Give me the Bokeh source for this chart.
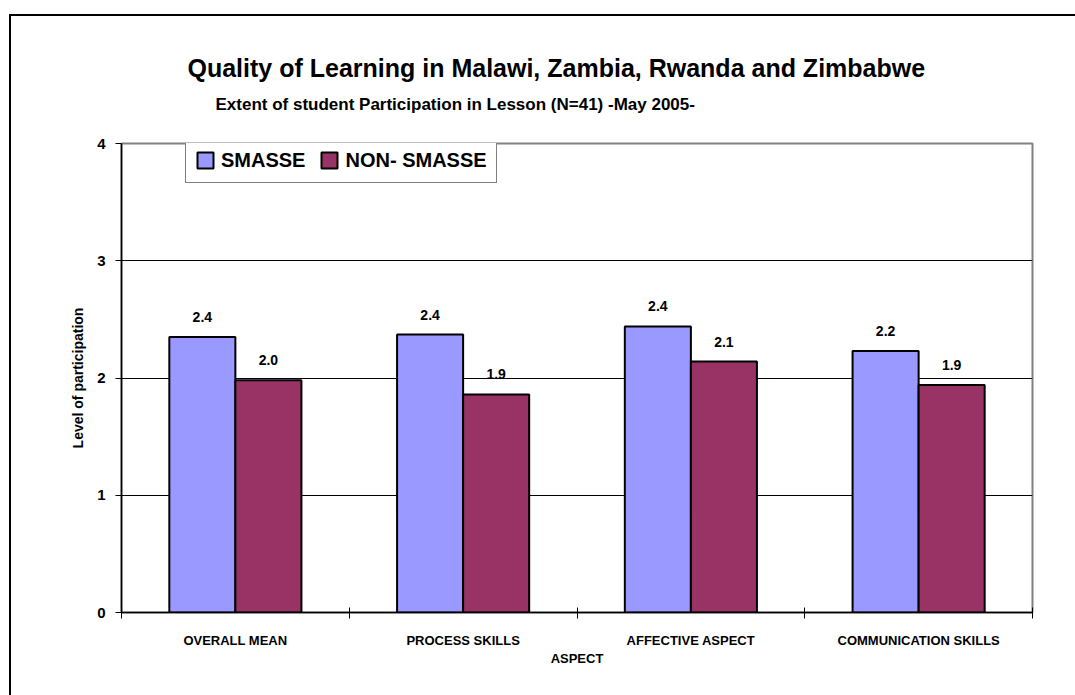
from bokeh.plotting import figure
from bokeh.models import (Range1d, LinearAxis, FixedTicker,
                          ColumnDataSource, Legend, LegendItem, Title)
from bokeh.transform import dodge
from bokeh.core.properties import value
from bokeh.embed import file_html
from bokeh.resources import INLINE

# ---- data ----
categories = ["OVERALL MEAN", "PROCESS SKILLS", "AFFECTIVE ASPECT", "COMMUNICATION SKILLS"]
smasse = [2.35, 2.37, 2.44, 2.23]
non_smasse = [1.98, 1.86, 2.14, 1.94]
series_names = ["SMASSE", "NON- SMASSE"]
y_ticks = [0, 1, 2, 3, 4]
title_text = "Quality of Learning in Malawi, Zambia, Rwanda and Zimbabwe"
subtitle_text = "Extent of student Participation in Lesson  (N=41)  -May 2005-"
x_label = "ASPECT"
y_label = "Level of participation"

FONT = "Liberation Sans"
C1 = "#9999FF"
C2 = "#993366"

n = len(categories)
centers = [i + 0.5 for i in range(n)]          # category slot centres on a 0..n axis
bounds = list(range(n + 1))                    # category slot boundaries

source = ColumnDataSource(dict(
    x=centers,
    smasse=smasse,
    non=non_smasse,
    smasse_lbl=[f"{v:.1f}" for v in smasse],
    non_lbl=[f"{v:.1f}" for v in non_smasse],
))

W, H = 1066, 681
p = figure(x_range=Range1d(0, n), y_range=Range1d(0, 4),
           width=W, height=H, output_backend="svg", toolbar_location=None,
           x_axis_type=None,
           min_border_left=112, min_border_right=43, min_border_top=129, min_border_bottom=83)
# outer chart frame: top and left edges only (right/bottom lie outside the window),
# painted as the host background behind a transparent border area
p.border_fill_color = None
p.background_fill_color = "white"
p.styles = {"margin-left": "9px", "margin-top": "14px",
            "background": ("linear-gradient(black, black) 0 0 / 2px 100% no-repeat, "
                           "linear-gradient(black, black) 0 0 / 100% 2px no-repeat, white")}

p.outline_line_color = "#808080"
p.outline_line_width = 2
p.xgrid.visible = False
p.ygrid.ticker = FixedTicker(ticks=y_ticks[1:-1])
p.ygrid.grid_line_color = "black"
p.ygrid.grid_line_width = 1

# bars
r1 = p.vbar(x=dodge("x", -0.145), top="smasse", width=0.29, source=source,
            fill_color=C1, line_color="black", line_width=2)
r2 = p.vbar(x=dodge("x", 0.145), top="non", width=0.29, source=source,
            fill_color=C2, line_color="black", line_width=2)

# value labels
for col, off in (("smasse", -0.145), ("non", 0.145)):
    p.text(x=dodge("x", off), y=col, text=col + "_lbl", source=source,
           y_offset=-20, text_align="center", text_baseline="middle",
           text_font=value(FONT), text_font_style="bold", text_font_size="14px", text_color="black")

# y axis
ya = p.yaxis[0]
ya.ticker = FixedTicker(ticks=y_ticks)
ya.major_tick_out = 6
ya.major_tick_in = 0
ya.minor_tick_line_color = None
ya.major_label_standoff = 10
ya.major_label_text_font = FONT
ya.major_label_text_font_style = "bold"
ya.major_label_text_font_size = "15px"
ya.major_label_text_color = "black"
ya.axis_label = y_label
ya.axis_label_text_font = FONT
ya.axis_label_text_font_style = "bold"
ya.axis_label_text_font_size = "14px"
ya.axis_label_text_color = "black"
ya.axis_label_standoff = 8
ya.axis_line_color = "black"
ya.axis_line_width = 1.5
ya.major_tick_line_color = "black"

# x axis: boundary ticks
ax1 = LinearAxis(ticker=FixedTicker(ticks=bounds),
                 major_tick_in=5, major_tick_out=6, major_label_text_font_size="0px",
                 major_label_standoff=0, minor_tick_line_color=None,
                 major_label_overrides={b: "" for b in bounds},
                 axis_line_color="black", axis_line_width=1.5, major_tick_line_color="black")
p.add_layout(ax1, "below")
# x axis: category labels at slot centres
ax2 = LinearAxis(ticker=FixedTicker(ticks=centers),
                 major_label_overrides={c: lab for c, lab in zip(centers, categories)},
                 major_tick_line_color=None, minor_tick_line_color=None, axis_line_color=None,
                 major_label_standoff=8,
                 major_label_text_font=FONT, major_label_text_font_style="bold",
                 major_label_text_font_size="13px", major_label_text_color="black",
                 axis_label=x_label, axis_label_standoff=0, axis_label_text_font=FONT,
                 axis_label_text_font_style="bold", axis_label_text_font_size="13px",
                 axis_label_text_color="black")
p.add_layout(ax2, "below")

# titles (a blank spacer panel sits between the frame and the subtitle)
spacer = Title(text=" ", text_font_size="10px", standoff=12)
sub = Title(text=subtitle_text, align="left", offset=94, text_font=FONT, text_font_style="bold",
            text_font_size="17px", text_color="black", standoff=10)
main = Title(text=title_text, align="left", offset=66, text_font=FONT, text_font_style="bold",
             text_font_size="25px", text_color="black", standoff=11)
p.add_layout(spacer, "above")
p.add_layout(sub, "above")
p.add_layout(main, "above")

# legend
legend = Legend(items=[LegendItem(label=series_names[0], renderers=[r1]),
                       LegendItem(label=series_names[1], renderers=[r2])],
                location=(64, 429), orientation="horizontal",
                label_text_font=FONT, label_text_font_style="bold", label_text_font_size="20px",
                label_text_color="black",
                glyph_width=20, glyph_height=20, label_height=26, label_standoff=6, spacing=14,
                padding=9, margin=0, border_line_color="black", border_line_width=1,
                background_fill_alpha=1)
p.add_layout(legend)

open("out.html", "w").write(file_html(p, INLINE))
